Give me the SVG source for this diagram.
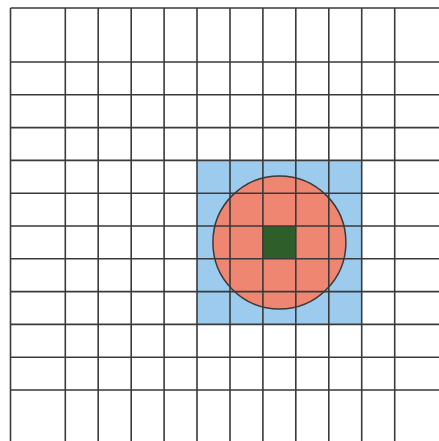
<svg xmlns="http://www.w3.org/2000/svg" width="439" height="441" viewBox="0 0 439 441">
<style>
.g{stroke:#3a3a3a;stroke-width:1.6;fill:none}
</style>
<rect width="439" height="441" fill="#ffffff"/>
<g id="blue-region"><rect x="197.0" y="160.4" width="164.7" height="164.6" fill="#9ccbee"/></g>
<g id="circle"><circle cx="279.4" cy="242.4" r="66.5" fill="#ee8672" stroke="#3a3a3a" stroke-width="1.5"/></g>
<g id="center-cell"><rect x="262.9" y="226" width="32.9" height="32.8" fill="#2e5e2a"/></g>
<g id="grid" class="g">
<path d="M10.5 8V441M65.3 8V441M98.2 8V441M131.2 8V441M164.1 8V441M197 8V441M230 8V441M262.9 8V441M295.8 8V441M328.8 8V441M361.7 8V441M394.7 8V441"/>
<path d="M10.5 8H439M10.5 62H439M10.5 94.8H439M10.5 127.6H439M10.5 160.4H439M10.5 193.2H439M10.5 226H439M10.5 258.8H439M10.5 291.6H439M10.5 324.4H439M10.5 357.2H439M10.5 390H439"/>
</g>
</svg>
